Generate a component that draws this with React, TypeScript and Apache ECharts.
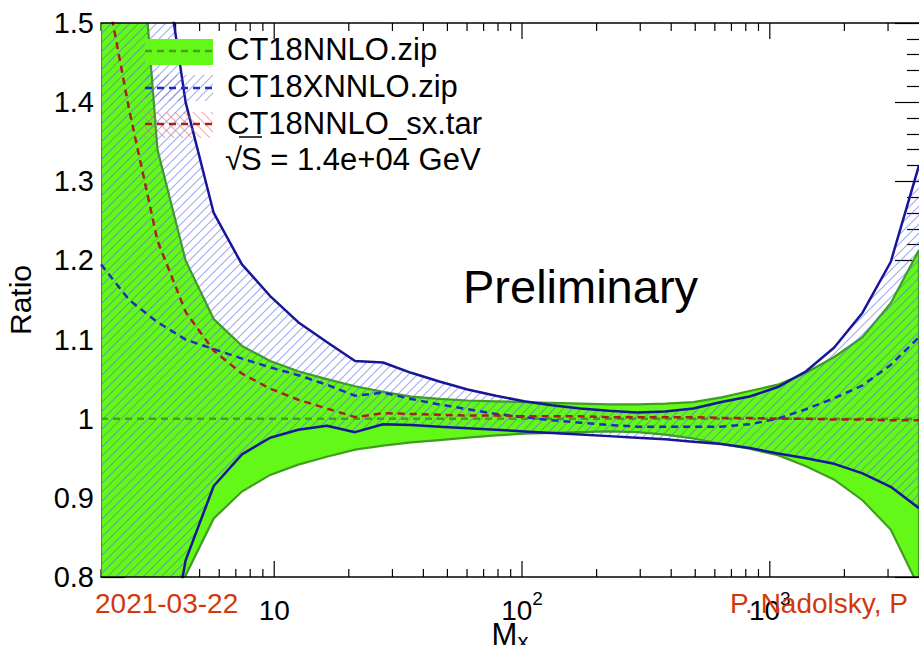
import React, { useEffect, useRef } from "react";
import * as echarts from "echarts";

// Invariant mass grid (GeV)
const massPoints = [2.0, 2.6, 3.38, 4.39, 5.7, 7.41, 9.63, 12.5, 16.3, 21.2, 27.5, 35.7, 46.4, 60.3, 78.4, 102, 132, 172, 224, 291, 378, 491, 638, 829, 1078, 1401, 1820, 2366, 3075, 4000];

// CT18NNLO.zip (green band)
const ct18Central = [1, 1, 1, 1, 1, 1, 1, 1, 1, 1, 1, 1, 1, 1, 1, 1, 1, 1, 1, 1, 1, 1, 1, 1, 1, 1, 1, 1, 1, 1];
const ct18Upper = [2.5, 1.8, 1.34, 1.2, 1.126, 1.092, 1.073, 1.06, 1.05, 1.041, 1.034, 1.028, 1.025, 1.023, 1.022, 1.021, 1.02, 1.019, 1.018, 1.018, 1.019, 1.021, 1.027, 1.035, 1.043, 1.058, 1.078, 1.103, 1.146, 1.213];
const ct18Lower = [0.3, 0.45, 0.6, 0.802, 0.874, 0.908, 0.929, 0.942, 0.952, 0.961, 0.966, 0.97, 0.973, 0.976, 0.979, 0.981, 0.982, 0.983, 0.984, 0.983, 0.98, 0.975, 0.968, 0.962, 0.954, 0.94, 0.923, 0.897, 0.86, 0.787];

// CT18XNNLO.zip (blue hatched band)
const ct18xCentral = [1.195, 1.15, 1.122, 1.1, 1.088, 1.076, 1.065, 1.055, 1.043, 1.029, 1.033, 1.025, 1.018, 1.012, 1.006, 1.002, 0.998, 0.995, 0.992, 0.99, 0.99, 0.99, 0.99, 0.993, 1.0, 1.012, 1.026, 1.042, 1.068, 1.103];
const ct18xUpper = [2.6, 2.1, 1.64, 1.4, 1.26, 1.195, 1.155, 1.122, 1.097, 1.073, 1.071, 1.058, 1.047, 1.037, 1.029, 1.022, 1.017, 1.013, 1.01, 1.008, 1.009, 1.013, 1.021, 1.028, 1.04, 1.06, 1.09, 1.134, 1.198, 1.32];
const ct18xLower = [0.3, 0.45, 0.62, 0.821, 0.915, 0.955, 0.976, 0.986, 0.991, 0.983, 0.993, 0.992, 0.99, 0.988, 0.986, 0.984, 0.982, 0.98, 0.978, 0.976, 0.974, 0.971, 0.968, 0.963, 0.956, 0.95, 0.943, 0.931, 0.914, 0.887];

// CT18NNLO_sx.tar (red dashed)
const ct18sxCentral = [1.58, 1.39, 1.225, 1.135, 1.086, 1.057, 1.038, 1.024, 1.013, 1.002, 1.007, 1.006, 1.005, 1.004, 1.004, 1.003, 1.003, 1.003, 1.002, 1.002, 1.002, 1.002, 1.001, 1.001, 1.0, 1.0, 0.999, 0.999, 0.998, 0.998];

// Axis ticks
const xMinorTicks = [2, 3, 4, 5, 6, 7, 8, 9, 20, 30, 40, 50, 60, 70, 80, 90, 200, 300, 400, 500, 600, 700, 800, 900, 2000, 3000];
const xMajorTicks = [10, 100, 1000];

const legendLabels = ["CT18NNLO.zip", "CT18XNNLO.zip", "CT18NNLO_sx.tar"];
const energyLabel = "S = 1.4e+04 GeV";

const FONT = "'Liberation Sans', Arial, Helvetica, sans-serif";
const GREEN_FILL = "#64f818";
const GREEN_EDGE = "#3f9e1f";
const GREEN_DASH = "#4f9a2a";
const BLUE_LINE = "#16169a";
const BLUE_DASH = "#1f2dbd";
const RED_DASH = "#a8201a";
const FOOT = "#d2380c";

function makeHatch(color: string, dir: "/" | "\\", size: number, lw: number) {
  const c = document.createElement("canvas");
  c.width = size;
  c.height = size;
  const ctx = c.getContext("2d")!;
  ctx.strokeStyle = color;
  ctx.lineWidth = lw;
  ctx.beginPath();
  if (dir === "/") {
    ctx.moveTo(-1, size + 1);
    ctx.lineTo(size + 1, -1);
    ctx.moveTo(-size / 2 - 1, size / 2 + 1);
    ctx.lineTo(size / 2 + 1, -size / 2 - 1);
    ctx.moveTo(size / 2 - 1, size * 1.5 + 1);
    ctx.lineTo(size * 1.5 + 1, size / 2 - 1);
  } else {
    ctx.moveTo(-1, -1);
    ctx.lineTo(size + 1, size + 1);
    ctx.moveTo(-size / 2 - 1, size / 2 - 1);
    ctx.lineTo(size / 2 + 1, size * 1.5 + 1);
    ctx.moveTo(size / 2 - 1, -size / 2 - 1);
    ctx.lineTo(size * 1.5 + 1, size / 2 + 1);
  }
  ctx.stroke();
  return {
    image: c.toDataURL(),
    repeat: "repeat",
    imageWidth: size,
    imageHeight: size,
  } as any;
}

function pairs(ys: number[]) {
  return massPoints.map((x, i) => [x, ys[i]]);
}

function bandSeries(name: string, upper: number[], lower: number[], style: any, z: number) {
  return {
    type: "custom",
    name,
    z,
    clip: true,
    silent: true,
    data: [[massPoints[0], 1]],
    renderItem: (_params: any, api: any) => {
      const pts: number[][] = [];
      for (let i = 0; i < massPoints.length; i++) pts.push(api.coord([massPoints[i], upper[i]]));
      for (let i = massPoints.length - 1; i >= 0; i--) pts.push(api.coord([massPoints[i], lower[i]]));
      return { type: "polygon", shape: { points: pts }, style };
    },
  };
}

function lineSeries(name: string, ys: number[], color: string, dashed: boolean, z: number) {
  return {
    type: "line",
    name,
    z,
    data: pairs(ys),
    symbol: "none",
    silent: true,
    lineStyle: { color, width: 2.5, type: dashed ? [7, 5] : "solid" },
  };
}

export default function App() {
  const ref = useRef<HTMLDivElement>(null);

  useEffect(() => {
    document.body.style.margin = "0";
    const chart = echarts.init(ref.current!, null, { renderer: "svg" });

    const blueHatch = makeHatch("rgba(85,100,230,0.55)", "/", 9, 1.1);
    const blueHatchLegend = makeHatch("rgba(85,100,230,0.5)", "/", 9, 1.1);
    const redHatch = makeHatch("rgba(240,100,100,0.55)", "\\", 9, 1.1);

    const tickData = [
      ...xMinorTicks.map((v) => [v, 1, 0]),
      ...xMajorTicks.map((v) => [v, 1, 1]),
    ];

    const legendRowsY = [51, 88, 124];
    const legendGraphics: any[] = [];
    legendGraphics.push({ type: "rect", shape: { x: 145, y: 39, width: 68, height: 26 }, style: { fill: GREEN_FILL }, z: 100 });
    legendGraphics.push({ type: "line", shape: { x1: 145, y1: legendRowsY[0], x2: 213, y2: legendRowsY[0] }, style: { stroke: GREEN_DASH, lineWidth: 2.5, lineDash: [7, 5] }, z: 101 });
    legendGraphics.push({ type: "rect", shape: { x: 145, y: 75, width: 68, height: 26 }, style: { fill: blueHatchLegend }, z: 100 });
    legendGraphics.push({ type: "line", shape: { x1: 145, y1: legendRowsY[1], x2: 213, y2: legendRowsY[1] }, style: { stroke: BLUE_DASH, lineWidth: 2.5, lineDash: [7, 5] }, z: 101 });
    legendGraphics.push({ type: "rect", shape: { x: 145, y: 112, width: 68, height: 26 }, style: { fill: redHatch }, z: 100 });
    legendGraphics.push({ type: "line", shape: { x1: 145, y1: legendRowsY[2], x2: 213, y2: legendRowsY[2] }, style: { stroke: RED_DASH, lineWidth: 2.5, lineDash: [7, 5] }, z: 101 });
    legendLabels.forEach((t, i) => {
      legendGraphics.push({
        type: "text",
        x: 227,
        y: [49, 86, 123][i],
        z: 101,
        style: { text: t, fill: "#000", fontSize: 31, fontFamily: FONT, align: "left", verticalAlign: "middle" },
      });
    });
    legendGraphics.push({
      type: "text",
      x: 225,
      y: 159,
      z: 101,
      style: { text: "√", fill: "#000", fontSize: 31, fontFamily: FONT, align: "left", verticalAlign: "middle" },
    });
    legendGraphics.push({ type: "line", shape: { x1: 239, y1: 137, x2: 262, y2: 137 }, style: { stroke: "#000", lineWidth: 1.5 }, z: 101 });
    legendGraphics.push({
      type: "text",
      x: 241,
      y: 159,
      z: 101,
      style: { text: energyLabel, fill: "#000", fontSize: 31, fontFamily: FONT, align: "left", verticalAlign: "middle" },
    });

    const option: any = {
      animation: false,
      textStyle: { fontFamily: FONT },
      grid: { left: 101, right: 0, top: 23, bottom: 68, show: false, containLabel: false, outerBoundsMode: "none" },
      xAxis: [
        {
          type: "log",
          logBase: 10,
          min: 2,
          max: 4000,
          position: "bottom",
          z: 10,
          axisLine: { show: true, lineStyle: { color: "#000", width: 1.5 } },
          axisTick: { show: false },
          splitLine: { show: false },
          minorTick: { show: false },
          name: "{m|M}{x|x}",
          nameLocation: "middle",
          nameGap: 37,
          nameMoveOverlap: false,
          nameTextStyle: {
            rich: {
              m: { fontSize: 31, fontFamily: FONT, color: "#000", lineHeight: 40 },
              x: { fontSize: 22, fontFamily: FONT, color: "#000", padding: [14, 0, 0, 0] },
            },
          },
          axisLabel: {
            show: true,
            interval: 0,
            margin: 12,
            showMinLabel: false,
            showMaxLabel: false,
            formatter: (v: number) => {
              const l = Math.log10(v);
              const e = Math.round(l);
              if (Math.abs(l - e) > 1e-6) return "";
              if (e === 1) return "{n|10}";
              return "{n|10}{s|" + e + "}";
            },
            rich: {
              n: { fontSize: 28, fontFamily: FONT, color: "#000", lineHeight: 43 },
              s: { fontSize: 19, fontFamily: FONT, color: "#000", padding: [0, 0, 24, 0] },
            },
          },
        },
        {
          type: "log",
          logBase: 10,
          min: 2,
          max: 4000,
          position: "top",
          z: 10,
          axisLine: { show: true, lineStyle: { color: "#000", width: 1.5 } },
          axisTick: { show: false },
          axisLabel: { show: false },
          splitLine: { show: false },
        },
      ],
      yAxis: [
        {
          type: "value",
          min: 0.8,
          max: 1.5,
          interval: 0.1,
          position: "left",
          axisLine: { show: false },
          axisTick: { show: true, inside: true, length: 24, lineStyle: { color: "#000", width: 1.2 } },
          minorTick: { show: true, splitNumber: 5, length: 12, lineStyle: { color: "#000", width: 1.2 } },
          splitLine: { show: false },
          axisLabel: { fontSize: 29, color: "#000", margin: 7, fontFamily: FONT },
          name: "Ratio",
          nameLocation: "middle",
          nameGap: 66,
          nameMoveOverlap: false,
          nameTextStyle: { fontSize: 30, color: "#000", fontFamily: FONT },
        },
        {
          type: "value",
          min: 0.8,
          max: 1.5,
          interval: 0.1,
          position: "right",
          axisLine: { show: false },
          axisTick: { show: true, inside: true, length: 24, lineStyle: { color: "#000", width: 1.2 } },
          minorTick: { show: true, splitNumber: 5, length: 12, lineStyle: { color: "#000", width: 1.2 } },
          splitLine: { show: false },
          axisLabel: { show: false },
        },
      ],
      series: [
        {
          type: "custom",
          name: "xticks",
          z: 1,
          silent: true,
          clip: false,
          data: tickData,
          renderItem: (_p: any, api: any) => {
            const v = api.value(0);
            const major = api.value(2) === 1;
            const len = major ? 16 : 8;
            const b = api.coord([v, 0.8]);
            const t = api.coord([v, 1.5]);
            const st = { stroke: "#000", lineWidth: 1.2 };
            return {
              type: "group",
              children: [
                { type: "line", shape: { x1: b[0], y1: b[1], x2: b[0], y2: b[1] - len }, style: st },
                { type: "line", shape: { x1: t[0], y1: t[1], x2: t[0], y2: t[1] + len }, style: st },
              ],
            };
          },
        },
        bandSeries("CT18NNLO.zip band", ct18Upper, ct18Lower, { fill: GREEN_FILL, stroke: GREEN_EDGE, lineWidth: 2.2 }, 2),
        bandSeries("CT18XNNLO.zip band", ct18xUpper, ct18xLower, { fill: blueHatch, stroke: "none" }, 3),
        lineSeries("CT18XNNLO.zip upper", ct18xUpper, BLUE_LINE, false, 4),
        lineSeries("CT18XNNLO.zip lower", ct18xLower, BLUE_LINE, false, 4),
        lineSeries("CT18NNLO.zip", ct18Central, GREEN_DASH, true, 5),
        lineSeries("CT18XNNLO.zip", ct18xCentral, BLUE_DASH, true, 6),
        lineSeries("CT18NNLO_sx.tar", ct18sxCentral, RED_DASH, true, 7),
      ],
      graphic: [
        ...legendGraphics,
        {
          type: "text",
          x: 463,
          y: 286,
          z: 101,
          style: { text: "Preliminary", fill: "#000", fontSize: 47, fontFamily: FONT, align: "left", verticalAlign: "middle" },
        },
        {
          type: "text",
          x: 95,
          y: 603,
          z: 101,
          style: { text: "2021-03-22", fill: FOOT, fontSize: 28, fontFamily: FONT, align: "left", verticalAlign: "middle" },
        },
        {
          type: "text",
          x: 730,
          y: 603,
          z: 101,
          style: { text: "P. Nadolsky, P", fill: FOOT, fontSize: 28, fontFamily: FONT, align: "left", verticalAlign: "middle" },
        },
      ],
    };

    chart.setOption(option);
    return () => chart.dispose();
  }, []);

  return <div ref={ref} style={{ width: 919, height: 645 }} />;
}
